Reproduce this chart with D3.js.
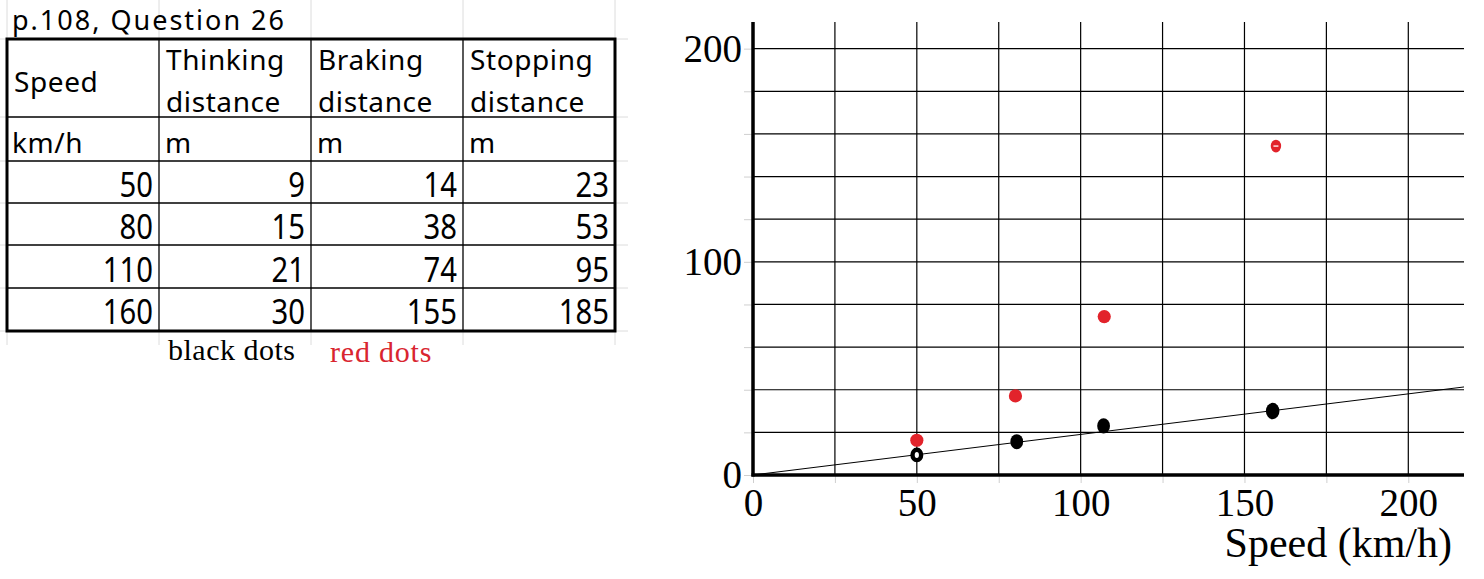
<!DOCTYPE html>
<html>
<head>
<meta charset="utf-8">
<script src="https://cdn.jsdelivr.net/npm/d3@7"></script>
<style>
  body { margin: 0; background: #fff; }
  svg { display: block; }
</style>
</head>
<body>
<svg id="chart" width="1484" height="579"></svg>
<script>
// table data (p.108, Question 26)
const speeds = [50, 80, 110, 160];
const thinking = [9, 15, 21, 30];
const braking = [14, 38, 74, 155];
const stopping = [23, 53, 95, 185];

// dots
const blackX = [50, 80.5, 107, 158.6];
const blackY = [9.4, 15.6, 23, 30];
const redX = [50, 80.1, 107.2, 159.6];
const redY = [16.3, 37.1, 74.3, 154.3];

// hand drawn line
const lineX = [0, 217];
const lineY = [0, 41.3];

const yTicks = [0, 20, 40, 60, 80, 100, 120, 140, 160, 180, 200];
const xTicks = [0, 25, 50, 75, 100, 125, 150, 175, 200];

const svg = d3.select("#chart");
svg.append("rect").attr("width", 1484).attr("height", 579).attr("fill", "#fff");

// ---------- table ----------
const tableFont = "'Noto Sans', 'Noto Sans CJK JP', sans-serif";
const colX = [7, 159, 311, 463, 615];
const rowY = [39, 117, 161, 203, 245, 288, 331];
const t = svg.append("g");

// faint sheet gridlines
const faint = t.append("g").attr("stroke", "#dcdcdc").attr("stroke-width", 1);
colX.forEach(function(cx) {
  faint.append("line").attr("x1", cx).attr("x2", cx).attr("y1", 0).attr("y2", rowY[0]);
  faint.append("line").attr("x1", cx).attr("x2", cx).attr("y1", rowY[6]).attr("y2", 345);
});
rowY.forEach(function(ry) {
  faint.append("line").attr("x1", 0).attr("x2", colX[0]).attr("y1", ry).attr("y2", ry);
  faint.append("line").attr("x1", colX[4]).attr("x2", 628).attr("y1", ry).attr("y2", ry);
});

t.append("text").attr("x", 12).attr("y", 30)
  .attr("font-family", tableFont).attr("font-size", 27).attr("letter-spacing", 2)
  .text("p.108, Question 26");

const inner = t.append("g").attr("stroke", "#000").attr("stroke-width", 1.3);
colX.slice(1, 4).forEach(function(cx) {
  inner.append("line").attr("x1", cx).attr("x2", cx).attr("y1", rowY[0]).attr("y2", rowY[6]);
});
rowY.slice(1, 6).forEach(function(ry) {
  inner.append("line").attr("x1", colX[0]).attr("x2", colX[4]).attr("y1", ry).attr("y2", ry);
});
t.append("rect").attr("x", colX[0]).attr("y", rowY[0])
  .attr("width", colX[4] - colX[0]).attr("height", rowY[6] - rowY[0])
  .attr("fill", "none").attr("stroke", "#000").attr("stroke-width", 3);

const cell = function(x, y, s) {
  t.append("text").attr("x", x).attr("y", y)
    .attr("font-family", tableFont).attr("font-size", 28).attr("letter-spacing", 0.6)
    .text(s);
};
cell(14, 92, "Speed");
[["Thinking", "distance"], ["Braking", "distance"], ["Stopping", "distance"]].forEach(function(h, i) {
  cell(colX[i + 1] + 7, 70, h[0]);
  cell(colX[i + 1] + 7, 112, h[1]);
});
cell(12, 153, "km/h");
[1, 2, 3].forEach(function(i) { cell(colX[i] + 6, 153, "m"); });

// numbers: narrow, tall digits
const cols = [speeds, thinking, braking, stopping];
const baselines = [197, 239, 282, 324];
cols.forEach(function(arr, c) {
  arr.forEach(function(v, r) {
    t.append("text")
      .attr("transform", "translate(" + (colX[c + 1] - 6) + "," + baselines[r] + ") scale(0.86,1)")
      .attr("font-family", tableFont).attr("font-size", 34)
      .attr("text-anchor", "end").text(v);
  });
});

t.append("text").attr("x", 168).attr("y", 360)
  .attr("font-family", "'Liberation Serif', serif").attr("font-size", 30).attr("letter-spacing", 0.5)
  .attr("fill", "#000").text("black dots");
t.append("text").attr("x", 330).attr("y", 362)
  .attr("font-family", "'Liberation Serif', serif").attr("font-size", 30).attr("letter-spacing", 0.8)
  .attr("fill", "#d9252f").text("red dots");

// ---------- graph ----------
const x = d3.scaleLinear().domain([0, 217]).range([753, 1464]);
const y = d3.scaleLinear().domain([0, 212.5]).range([475, 22]);
const g = svg.append("g");

// grid
g.append("g").selectAll("line").data(xTicks.slice(1)).join("line")
  .attr("x1", d => x(d)).attr("x2", d => x(d))
  .attr("y1", y(212.5)).attr("y2", y(0))
  .attr("stroke", "#000").attr("stroke-width", 1.2);
g.append("g").selectAll("line").data(yTicks.slice(1)).join("line")
  .attr("x1", x(0)).attr("x2", x(217))
  .attr("y1", d => y(d)).attr("y2", d => y(d))
  .attr("stroke", "#000").attr("stroke-width", 1.2);

// axes
const yAxis = g.append("g").attr("transform", "translate(" + x(0) + ",0)")
  .call(d3.axisLeft(y).tickValues(yTicks).tickSize(9).tickPadding(2)
    .tickFormat(d => d % 100 === 0 ? d : ""));
const xAxis = g.append("g").attr("transform", "translate(0," + y(0) + ")")
  .call(d3.axisBottom(x).tickValues(xTicks).tickSize(8).tickPadding(2)
    .tickFormat(d => d % 50 === 0 ? d : ""));
[yAxis, xAxis].forEach(function(a) {
  a.select(".domain").remove();
  a.selectAll(".tick line").attr("stroke", "#cfcfcf").attr("stroke-width", 1);
  a.selectAll(".tick text").attr("font-family", "'Liberation Serif', serif")
    .attr("font-size", 39).attr("fill", "#000");
});
xAxis.selectAll(".tick text").attr("dy", "0.8em");

g.append("line").attr("x1", x(0)).attr("x2", x(0)).attr("y1", y(212.5)).attr("y2", y(0) + 1.5)
  .attr("stroke", "#000").attr("stroke-width", 3.5);
g.append("line").attr("x1", x(0) - 1.5).attr("x2", x(217)).attr("y1", y(0)).attr("y2", y(0))
  .attr("stroke", "#000").attr("stroke-width", 3.5);

g.append("text").attr("x", 1452).attr("y", 557).attr("text-anchor", "end")
  .attr("font-family", "'Liberation Serif', serif").attr("font-size", 42)
  .text("Speed (km/h)");

// line
g.append("path")
  .datum(d3.zip(lineX, lineY))
  .attr("d", d3.line().x(d => x(d[0])).y(d => y(d[1])))
  .attr("fill", "none").attr("stroke", "#000").attr("stroke-width", 1);

// dots
const red = "#e2232b";
g.append("g").selectAll("ellipse").data(d3.zip(redX, redY)).join("ellipse")
  .attr("cx", d => x(d[0])).attr("cy", d => y(d[1]))
  .attr("rx", (d, i) => i === 3 ? 5.2 : 6.6).attr("ry", (d, i) => i === 3 ? 6.4 : 6.6)
  .attr("fill", red);
g.append("line")
  .attr("x1", x(redX[3]) - 2.5).attr("x2", x(redX[3]) + 2.5)
  .attr("y1", y(redY[3])).attr("y2", y(redY[3]))
  .attr("stroke", "#fff").attr("stroke-width", 1.3);

g.append("g").selectAll("ellipse").data(d3.zip(blackX, blackY)).join("ellipse")
  .attr("cx", d => x(d[0])).attr("cy", d => y(d[1]))
  .attr("rx", (d, i) => i === 0 ? 4.3 : i === 3 ? 6.8 : 6.4)
  .attr("ry", (d, i) => i === 0 ? 5.2 : i === 3 ? 8.2 : 7.6)
  .attr("fill", (d, i) => i === 0 ? "#fff" : "#000")
  .attr("stroke", "#000").attr("stroke-width", (d, i) => i === 0 ? 4.4 : 0);
</script>
</body>
</html>
